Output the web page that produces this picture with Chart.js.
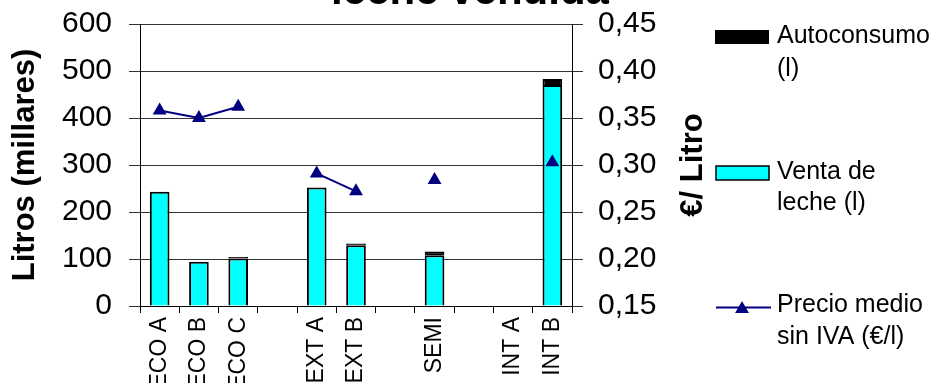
<!DOCTYPE html>
<html lang="es">
<head>
<meta charset="utf-8">
<title>Leche vendida</title>
<script src="https://cdn.jsdelivr.net/npm/chart.js@4.4.1/dist/chart.umd.min.js"></script>
<style>
  html, body { margin: 0; padding: 0; background: #fff; }
  #wrap { width: 940px; height: 383px; overflow: hidden; }
</style>
</head>
<body>
<div id="wrap"><canvas id="leche" width="940" height="383"></canvas></div>
<script>
  // grupos de explotación; las posiciones vacías separan los grupos
  var categorias = ["ECO A", "ECO B", "ECO C", "", "EXT A", "EXT B", "", "SEMI", "", "INT A", "INT B"];
  // miles de litros
  var ventaLeche = [243, 94, 101, null, 252, 129, null, 108, null, null, 470];
  var autoconsumo = [0, 0, 3, null, 0, 4, null, 8, null, null, 13];
  // precio medio sin IVA, €/l
  var precioMedio = [0.358, 0.350, 0.362, null, 0.291, 0.272, null, 0.284, null, null, 0.303];
  var marcasLitros = [0, 100, 200, 300, 400, 500, 600];
  var marcasPrecio = [0.15, 0.20, 0.25, 0.30, 0.35, 0.40, 0.45];

  var titulo = "leche vendida";
  var tituloPrecio = "€/ Litro";
  var textosLeyenda = [
    ["Autoconsumo", "(l)"],
    ["Venta de", "leche (l)"],
    ["Precio medio", "sin IVA (€/l)"]
  ];

  var FUENTE = "'Liberation Sans', Arial, sans-serif";
  var CIAN = "#00ffff";
  var AZUL = "#000080";

  Chart.defaults.font.family = FUENTE;
  Chart.defaults.color = "#000";

  function triangulo(c, x, y, r) {
    c.beginPath();
    c.moveTo(x, y - r);
    c.lineTo(x + r * 0.866, y + r * 0.5);
    c.lineTo(x - r * 0.866, y + r * 0.5);
    c.closePath();
    c.fill();
  }

  // el padding de las etiquetas no debe empujar el área del gráfico
  function sinMargenVertical(s) {
    s.paddingTop = 0;
    s.paddingBottom = 0;
  }

  // título recortado, eje derecho y leyenda dibujados a mano
  var extras = {
    id: "extras",
    afterDraw: function (chart) {
      var c = chart.ctx;
      c.save();
      c.fillStyle = "#000";
      c.textAlign = "center";
      c.textBaseline = "alphabetic";
      c.font = "bold 42px " + FUENTE;
      c.fillText(titulo, 470, 4);

      c.save();
      c.translate(693, 165);
      c.rotate(-Math.PI / 2);
      c.textBaseline = "middle";
      c.font = "bold 31px " + FUENTE;
      c.fillText(tituloPrecio, 0, 0);
      c.restore();

      // símbolos
      c.fillStyle = "#000";
      c.fillRect(715, 30, 54, 14);
      c.fillStyle = CIAN;
      c.fillRect(716, 166, 53, 14);
      c.strokeStyle = "#000";
      c.lineWidth = 1.5;
      c.strokeRect(716, 166, 53, 14);
      c.strokeStyle = AZUL;
      c.lineWidth = 2;
      c.beginPath();
      c.moveTo(716, 307.5);
      c.lineTo(771, 307.5);
      c.stroke();
      c.fillStyle = AZUL;
      triangulo(c, 742, 309, 8);

      // textos
      c.fillStyle = "#000";
      c.textAlign = "left";
      c.font = "25px " + FUENTE;
      var lineas = [[43, 76], [179, 210], [312, 344]];
      textosLeyenda.forEach(function (t, i) {
        c.fillText(t[0], 777, lineas[i][0]);
        c.fillText(t[1], 777, lineas[i][1]);
      });
      c.restore();
    }
  };

  new Chart(document.getElementById("leche"), {
    type: "bar",
    data: {
      labels: categorias,
      datasets: [
        {
          type: "line",
          label: "Precio medio sin IVA (€/l)",
          data: precioMedio,
          yAxisID: "y2",
          order: 0,
          borderColor: AZUL,
          backgroundColor: AZUL,
          borderWidth: 2,
          pointStyle: "triangle",
          pointRadius: 8,
          pointBorderWidth: 0,
          spanGaps: false
        },
        {
          label: "Venta de leche (l)",
          data: ventaLeche,
          order: 1,
          backgroundColor: CIAN,
          borderColor: "#000",
          borderWidth: 2,
          barPercentage: 0.5,
          categoryPercentage: 1
        },
        {
          label: "Autoconsumo (l)",
          data: autoconsumo,
          order: 1,
          backgroundColor: "#000",
          borderColor: "#000",
          borderWidth: 2,
          barPercentage: 0.5,
          categoryPercentage: 1
        }
      ]
    },
    options: {
      responsive: false,
      animation: false,
      layout: { padding: { left: 7, right: 228, top: 24, bottom: 0 } },
      plugins: { legend: { display: false }, tooltip: { enabled: false } },
      scales: {
        x: {
          stacked: true,
          grid: { drawOnChartArea: false, drawTicks: true, tickLength: 7, color: "#000", offset: true },
          border: { color: "#000" },
          ticks: { autoSkip: false, maxRotation: 90, minRotation: 90, padding: 4, font: { size: 23 } },
          afterFit: function (s) { s.height = 77; }
        },
        y: {
          stacked: true,
          min: 0,
          max: 600,
          afterBuildTicks: function (s) { s.ticks = marcasLitros.map(function (v) { return { value: v }; }); },
          grid: { color: "#333", tickLength: 11 },
          border: { color: "#000" },
          ticks: { padding: 17, font: { size: 30 } },
          title: { display: true, text: "Litros (millares)", padding: 0, font: { size: 31, weight: "bold" } },
          afterFit: function (s) { s.width = 133; sinMargenVertical(s); }
        },
        y2: {
          position: "right",
          stacked: false,
          min: 0.15,
          max: 0.45,
          afterBuildTicks: function (s) { s.ticks = marcasPrecio.map(function (v) { return { value: v }; }); },
          grid: { drawOnChartArea: false, color: "#333", tickLength: 11 },
          border: { color: "#000" },
          ticks: {
            padding: 15,
            font: { size: 30 },
            callback: function (v) { return v.toFixed(2).replace(".", ","); }
          },
          afterFit: function (s) { s.width = 140; sinMargenVertical(s); }
        }
      }
    },
    plugins: [extras]
  });
</script>
</body>
</html>
